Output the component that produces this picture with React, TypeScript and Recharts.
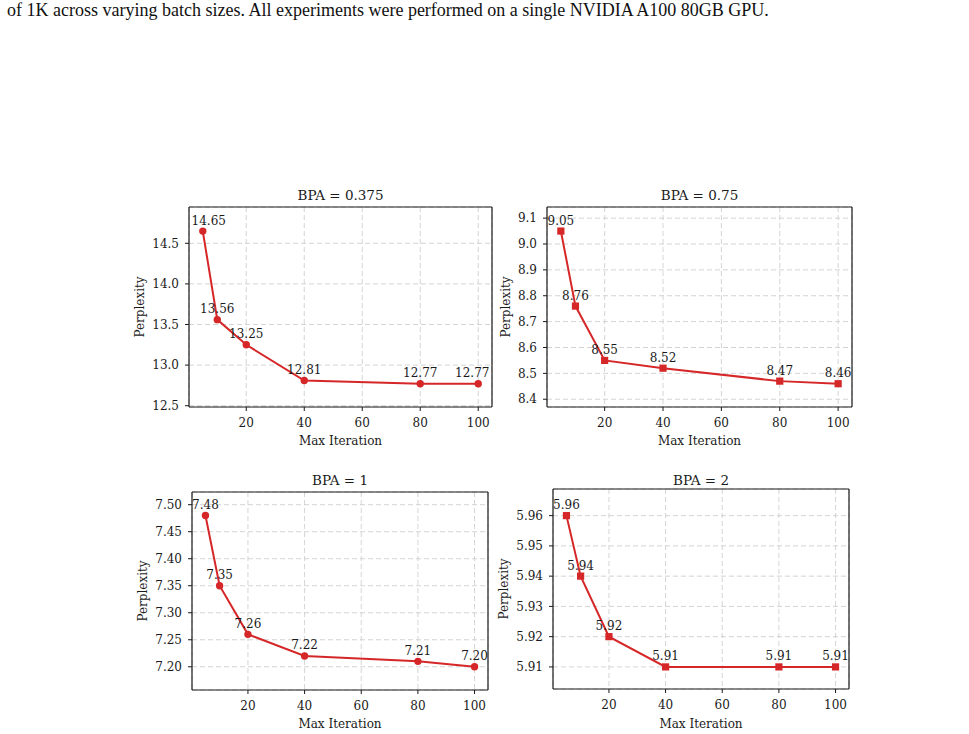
import React from 'react';
import { LineChart, Line, XAxis, YAxis, CartesianGrid, ReferenceLine } from 'recharts';

// ---------- data ----------
const maxIterations = [5, 10, 20, 40, 80, 100];
const xTicks = [20, 40, 60, 80, 100];

const bpaTitles = ['BPA = 0.375', 'BPA = 0.75', 'BPA = 1', 'BPA = 2'];
const pplBpa0375 = [14.65, 13.56, 13.25, 12.81, 12.77, 12.77];
const pplBpa075 = [9.05, 8.76, 8.55, 8.52, 8.47, 8.46];
const pplBpa1 = [7.48, 7.35, 7.26, 7.22, 7.21, 7.2];
const pplBpa2 = [5.96, 5.94, 5.92, 5.91, 5.91, 5.91];

const yTicks0375 = [12.5, 13.0, 13.5, 14.0, 14.5];
const yTicks075 = [8.4, 8.5, 8.6, 8.7, 8.8, 8.9, 9.0, 9.1];
const yTicks1 = [7.2, 7.25, 7.3, 7.35, 7.4, 7.45, 7.5];
const yTicks2 = [5.91, 5.92, 5.93, 5.94, 5.95, 5.96];

// axis limits
const yLim0375 = [12.484, 14.947];
const yLim075 = [8.37, 9.143];
const yLim1 = [7.157, 7.5235];
const yLim2 = [5.9027, 5.9688];
const xLim = [0.25, 104.75];

const markerShapes = ['circle', 'square', 'circle', 'square'];
const yTickDecimals = [1, 1, 2, 2];

const xAxisLabel = 'Max Iteration';
const yAxisLabel = 'Perplexity';
const captionText =
  'of 1K across varying batch sizes. All experiments were performed on a single NVIDIA A100 80GB GPU.';

// ---------- layout / style ----------
const FONT = "'DejaVu Serif', serif";
const RED = '#d62728';
const INK = '#1a1a1a';

type Layout = {
  x: number; y: number; w: number; h: number;
  titleY: number; yLabelX: number; xLabelY: number;
  labelDx: number[];
};
const layouts: Layout[] = [
  { x: 189, y: 207, w: 303, h: 200, titleY: 199.5, yLabelX: 140, xLabelY: 445, labelDx: [6, 0, 0, 0, 0, -6] },
  { x: 547, y: 207, w: 305, h: 200, titleY: 199.5, yLabelX: 506, xLabelY: 445, labelDx: [0, 0, 0, 0, 0, 0] },
  { x: 192, y: 492, w: 296, h: 198, titleY: 484.5, yLabelX: 143, xLabelY: 728, labelDx: [0, 0, 0, 0, 0, 0] },
  { x: 553, y: 489, w: 296, h: 200, titleY: 484.5, yLabelX: 504, xLabelY: 728, labelDx: [0, 0, 0, 0, 0, 0] },
];

const L = 70;
const T = 6;
const R = 6;
const B = 50;

type PanelProps = {
  values: number[];
  yTicks: number[];
  yLim: number[];
  shape: string;
  decimals: number;
  layout: Layout;
};

function Panel({ values, yTicks, yLim, shape, decimals, layout }: PanelProps) {
  const data = maxIterations.map((x, i) => ({ x, y: values[i] }));
  const yDomain: [number, number] = [yLim[0], yLim[1]];
  const xDomain: [number, number] = [xLim[0], xLim[1]];

  const width = L + layout.w + R;
  const height = T + layout.h + B;

  const renderDot = (p: any) => {
    const key = `d-${p.index}`;
    if (p.cx == null || p.cy == null) return <g key={key} />;
    const v = p.payload ? p.payload.y : p.value;
    const dx = layout.labelDx[p.index] || 0;
    return (
      <g key={key}>
        {shape === 'square' ? (
          <rect x={p.cx - 3.6} y={p.cy - 3.6} width={7.2} height={7.2} fill={RED} />
        ) : (
          <circle cx={p.cx} cy={p.cy} r={3.7} fill={RED} />
        )}
        <text
          x={p.cx + dx}
          y={p.cy - 6.5}
          textAnchor="middle"
          fontFamily={FONT}
          fontSize={12}
          fill={INK}
        >
          {Number(v).toFixed(2)}
        </text>
      </g>
    );
  };

  const renderXLabel = (props: any) => {
    const vb = props.viewBox || {};
    const cx = (vb.x ?? L) + (vb.width ?? layout.w) / 2;
    const y = T + layout.h + (layout.xLabelY - (layout.y + layout.h));
    return (
      <text x={cx} y={y} textAnchor="middle" fontFamily={FONT} fontSize={12} fill={INK}>
        {xAxisLabel}
      </text>
    );
  };

  const renderYLabel = () => {
    const cx = L - (layout.x - layout.yLabelX);
    const cy = T + layout.h / 2;
    return (
      <text
        x={cx}
        y={cy}
        transform={`rotate(-90 ${cx} ${cy})`}
        textAnchor="middle"
        dominantBaseline="central"
        fontFamily={FONT}
        fontSize={12}
        fill={INK}
      >
        {yAxisLabel}
      </text>
    );
  };

  const tickStyle = { fontSize: 12, fontFamily: FONT, fill: INK };

  return (
    <div style={{ position: 'absolute', left: layout.x - L, top: layout.y - T }}>
      <LineChart width={width} height={height} data={data} margin={{ top: T, right: R, left: 0, bottom: 0 }}>
        <CartesianGrid stroke="#cfcfcf" strokeDasharray="5 3" strokeWidth={0.9} />
        <XAxis
          dataKey="x"
          type="number"
          domain={xDomain}
          ticks={xTicks}
          height={B}
          tickSize={4}
          tickMargin={7}
          axisLine={{ stroke: INK, strokeWidth: 1.2 }}
          tickLine={{ stroke: INK }}
          tick={tickStyle}
          interval={0}
          label={{ content: renderXLabel }}
        />
        <YAxis
          type="number"
          domain={yDomain}
          ticks={yTicks}
          width={L}
          tickSize={4}
          tickMargin={6}
          axisLine={{ stroke: INK, strokeWidth: 1.2 }}
          tickLine={{ stroke: INK }}
          tick={tickStyle}
          interval={0}
          tickFormatter={(v: number) => v.toFixed(decimals)}
          label={{ content: renderYLabel }}
        />
        <ReferenceLine y={yDomain[1]} stroke={INK} strokeWidth={1.2} ifOverflow="extendDomain" />
        <ReferenceLine x={xDomain[1]} stroke={INK} strokeWidth={1.2} ifOverflow="extendDomain" />
        <Line
          dataKey="y"
          type="linear"
          stroke={RED}
          strokeWidth={2}
          dot={renderDot}
          activeDot={false}
          isAnimationActive={false}
        />
      </LineChart>
    </div>
  );
}

const seriesList = [pplBpa0375, pplBpa075, pplBpa1, pplBpa2];
const tickList = [yTicks0375, yTicks075, yTicks1, yTicks2];
const limList = [yLim0375, yLim075, yLim1, yLim2];

export default function App() {
  return (
    <div
      style={{
        position: 'absolute',
        left: 0,
        top: 0,
        width: 969,
        height: 734,
        background: '#ffffff',
        overflow: 'hidden',
      }}
    >
      <div
        style={{
          position: 'absolute',
          left: 7,
          top: 1,
          fontFamily: "'Liberation Serif', 'Times New Roman', serif",
          fontSize: 18,
          lineHeight: '19px',
          color: '#111',
          whiteSpace: 'nowrap',
          letterSpacing: '0px',
        }}
      >
        {captionText}
      </div>
      <svg width={969} height={734} style={{ position: 'absolute', left: 0, top: 0, pointerEvents: 'none' }}>
        {bpaTitles.map((t, i) => (
          <text
            key={t}
            x={layouts[i].x + layouts[i].w / 2}
            y={layouts[i].titleY}
            textAnchor="middle"
            fontFamily={FONT}
            fontSize={13.5}
            fill={INK}
          >
            {t}
          </text>
        ))}
      </svg>
      {seriesList.map((vals, i) => (
        <Panel
          key={i}
          values={vals}
          yTicks={tickList[i]}
          yLim={limList[i]}
          shape={markerShapes[i]}
          decimals={yTickDecimals[i]}
          layout={layouts[i]}
        />
      ))}
    </div>
  );
}
